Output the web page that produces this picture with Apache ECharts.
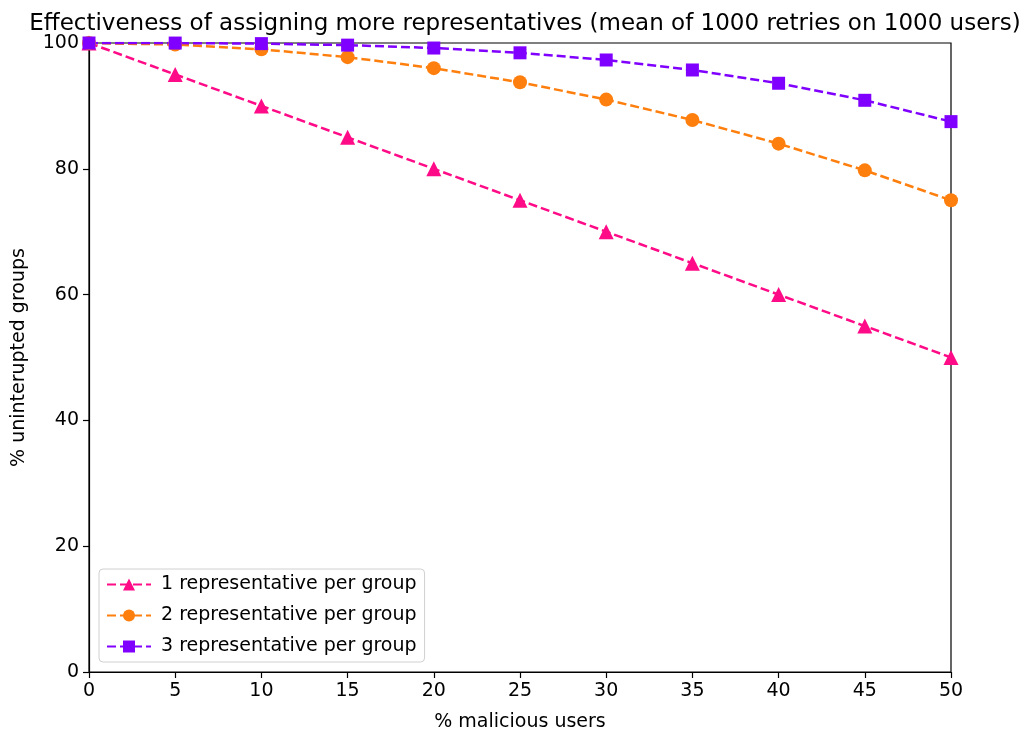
<!DOCTYPE html>
<html><head><meta charset="utf-8">
<script src="https://cdn.jsdelivr.net/npm/echarts@6/dist/echarts.min.js"></script>
<style>html,body{margin:0;padding:0;background:#fff}#c{width:1024px;height:734px}</style>
</head><body><div id="c"></div>
<script>
const xValues = [0, 5, 10, 15, 20, 25, 30, 35, 40, 45, 50];
const rep1 = [100, 95, 90, 85, 80, 75, 70, 65, 60, 55, 50];
const rep2 = [100, 99.75, 99, 97.75, 96, 93.75, 91, 87.75, 84, 79.75, 75];
const rep3 = [100, 99.99, 99.9, 99.66, 99.2, 98.44, 97.3, 95.71, 93.6, 90.89, 87.5];
const seriesNames = ['1 representative per group', '2 representative per group', '3 representative per group'];
const titleText = 'Effectiveness of assigning more representatives (mean of 1000 retries on 1000 users)';

const font = 'DejaVu Sans';
function pairs(ys){ return xValues.map((x,i)=>[x, ys[i]]); }
function mk(name, ys, color, symbol, size){
  return {
    name, type:'line', data: pairs(ys), symbol, symbolSize: size,
    clip: true,
    lineStyle:{color, width:2.5, type:[9,4]},
    itemStyle:{color},
    emphasis:{disabled:true},
    z: 3
  };
}
const chart = echarts.init(document.getElementById('c'), null, {renderer:'canvas'});
chart.setOption({
  animation:false,
  backgroundColor:'#fff',
  title:{text:titleText, left:520, textAlign:'center', top:8,
    textStyle:{fontFamily:font, fontSize:23, fontWeight:'normal', color:'#000'}},
  grid:{left:89, right:73, top:43, bottom:62, containLabel:false, outerBoundsMode:'none',
    show:true, borderColor:'#000', borderWidth:1.2, backgroundColor:'transparent'},
  xAxis:{type:'value', min:0, max:50, interval:5,
    name:'% malicious users', nameLocation:'middle', nameGap:41,
    nameTextStyle:{fontFamily:font, fontSize:19, color:'#000'},
    axisLine:{show:true, onZero:false, lineStyle:{color:'#000', width:1.2}},
    axisTick:{show:true, length:6, lineStyle:{color:'#000', width:1.2}},
    axisLabel:{fontFamily:font, fontSize:19, color:'#000', margin:10},
    splitLine:{show:false}},
  yAxis:{type:'value', min:0, max:100, interval:20,
    name:'% uninterupted groups', nameLocation:'middle', nameGap:60,
    nameTextStyle:{fontFamily:font, fontSize:19, color:'#000'},
    axisLine:{show:true, lineStyle:{color:'#000', width:1.2}},
    axisTick:{show:true, length:6, lineStyle:{color:'#000', width:1.2}},
    axisLabel:{fontFamily:font, fontSize:19, color:'#000', margin:10},
    splitLine:{show:false}},
  legend:{
    data: seriesNames, orient:'vertical', left:99, top:569,
    backgroundColor:'rgba(255,255,255,0.8)', borderColor:'#d0d0d0', borderWidth:1, borderRadius:4,
    padding:[5,8,5,7], itemGap:10, itemWidth:44, itemHeight:15,
    textStyle:{fontFamily:font, fontSize:19, lineHeight:21, color:'#000', padding:[0,0,0,5]}
  },
  series:[
    mk(seriesNames[0], rep1, '#ff0a87', 'triangle', 15),
    mk(seriesNames[1], rep2, '#ff7f0e', 'circle', 14),
    mk(seriesNames[2], rep3, '#8000ff', 'rect', 13)
  ]
});
</script></body></html>
